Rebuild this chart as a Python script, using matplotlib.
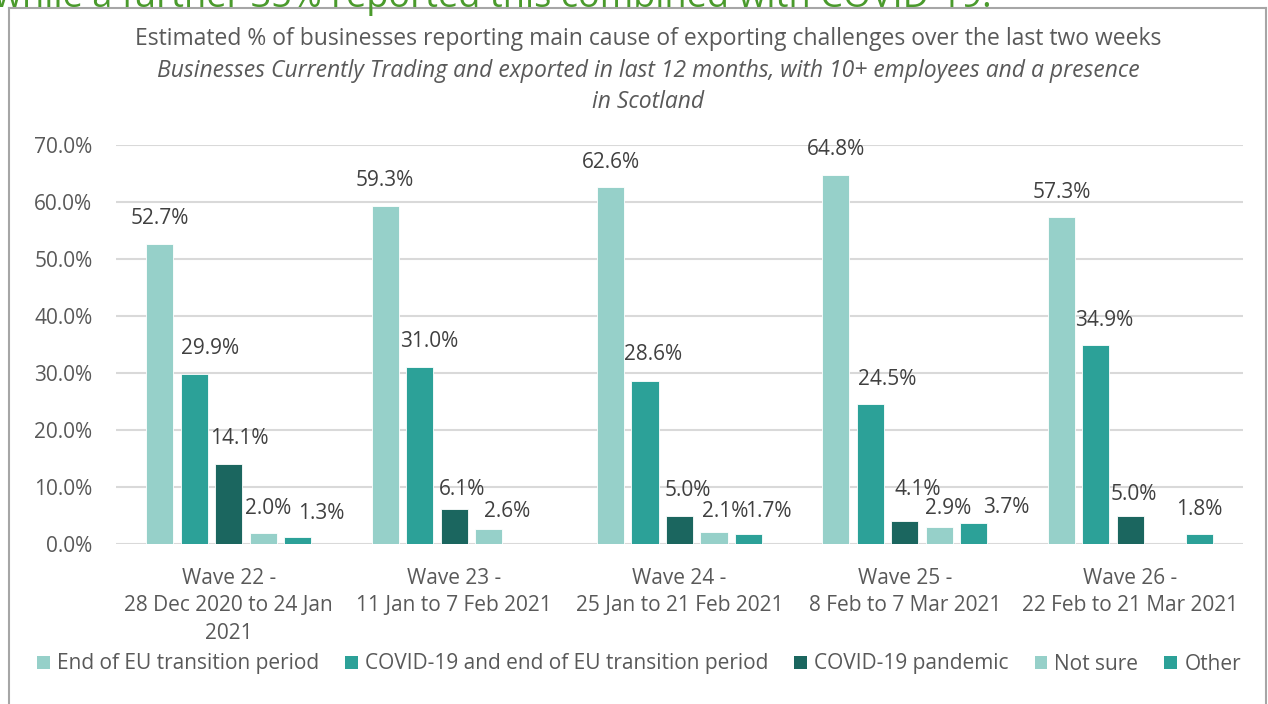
import numpy as np
import matplotlib
matplotlib.use("Agg")
import matplotlib.pyplot as plt
from matplotlib.patches import Patch
from matplotlib.lines import Line2D

plt.rcParams['font.family'] = ['Open Sans', 'DejaVu Sans']

waves = ["Wave 22 -\n28 Dec 2020 to 24 Jan\n2021",
         "Wave 23 -\n11 Jan to 7 Feb 2021",
         "Wave 24 -\n25 Jan to 21 Feb 2021",
         "Wave 25 -\n8 Feb to 7 Mar 2021",
         "Wave 26 -\n22 Feb to 21 Mar 2021"]
series = ["End of EU transition period",
          "COVID-19 and end of EU transition period",
          "COVID-19 pandemic",
          "Not sure",
          "Other"]
end_eu = [52.7, 59.3, 62.6, 64.8, 57.3]
covid_and_eu = [29.9, 31.0, 28.6, 24.5, 34.9]
covid = [14.1, 6.1, 5.0, 4.1, 5.0]
not_sure = [2.0, 2.6, 2.1, 2.9, np.nan]
other = [1.3, np.nan, 1.7, 3.7, 1.8]
values = [end_eu, covid_and_eu, covid, not_sure, other]

colors = ["#96d0c9", "#2ca198", "#1b665f", "#96d0c9", "#2ca198"]

# data label nudges in px (series x wave), as placed in the original
label_dx = [[0, 0, 0, 0, 0],
            [16, 10, 8, 17, 8],
            [11, 8, 8, 13, 4],
            [5, 19, 11, 9, 0],
            [24, 0, 20, 32, 0]]
label_dy = [[25, 25, 25, 25, 25],
            [25, 26, 26, 25, 25],
            [25, 20, 25, 31, 21],
            [24, 18, 21, 19, 0],
            [23, 0, 23, 15, 24]]

fig = plt.figure(figsize=(12.68, 7.04), dpi=100)
W, H = 1268, 704

# chart frame (bottom edge falls outside the picture)
fig.add_artist(Line2D([9/W, 9/W], [0, 1-8/H], color="#a6a6a6", lw=1.5))
fig.add_artist(Line2D([9/W, 1266/W], [1-8/H, 1-8/H], color="#a6a6a6", lw=1.5))
fig.add_artist(Line2D([1266/W, 1266/W], [0, 1-8/H], color="#a6a6a6", lw=1.5))

# clipped text from the page above the chart
fig.text(-6/W, 1-7/H, "while a further 35% reported this combined with COVID-19.",
         color="#4a9a2c", fontsize=26, va="baseline", ha="left", zorder=5)

ax = fig.add_axes([116/W, 160/H, 1127/W, 399/H])
x = np.arange(len(waves))
pitch, width = 0.153, 0.12
for j, (name, vals) in enumerate(zip(series, values)):
    pos = x + (j - 2) * pitch
    ax.bar(pos, vals, width, color=colors[j], edgecolor="white", linewidth=0.6,
           label=name, zorder=3)
    for i, (p, v) in enumerate(zip(pos, vals)):
        if np.isnan(v):
            continue
        ax.annotate(f"{v:.1f}%", (p, v), xytext=(label_dx[j][i], label_dy[j][i]),
                    textcoords="offset pixels", ha="center", va="center",
                    fontsize=15, color="#404040", zorder=4)

ax.set_xlim(-0.5, 4.5)
ax.set_ylim(0, 70)
ax.set_yticks(np.arange(0, 71, 10))
ax.set_yticklabels([f"{t:.1f}%" for t in np.arange(0, 71, 10)])
ax.set_xticks(x)
ax.set_xticklabels(waves, linespacing=1.42)
ax.grid(axis="y", color="#d9d9d9", lw=1.5, zorder=0)
ax.set_axisbelow(True)
for s in ax.spines.values():
    s.set_visible(False)
ax.tick_params(axis="both", length=0, labelsize=15, colors="#595959")
ax.tick_params(axis="x", pad=17)
ax.tick_params(axis="y", pad=17)

fig.text(648/W, 1-39/H,
         "Estimated % of businesses reporting main cause of exporting challenges over the last two weeks",
         ha="center", va="center", fontsize=16.5, color="#595959")
fig.text(648/W, 1-71/H,
         "Businesses Currently Trading and exported in last 12 months, with 10+ employees and a presence",
         ha="center", va="center", fontsize=16.5, color="#595959", style="italic")
fig.text(648/W, 1-102/H, "in Scotland",
         ha="center", va="center", fontsize=16.5, color="#595959", style="italic")

handles = [Patch(facecolor=c, edgecolor="none") for c in colors]
fig.legend(handles, series, loc="center", bbox_to_anchor=(639/W, 1-664/H), ncol=5,
           frameon=False, fontsize=15, labelcolor="#595959", handlelength=0.6,
           handleheight=0.6, handletextpad=0.35, columnspacing=1.25)

fig.savefig("out.png", dpi=100)
